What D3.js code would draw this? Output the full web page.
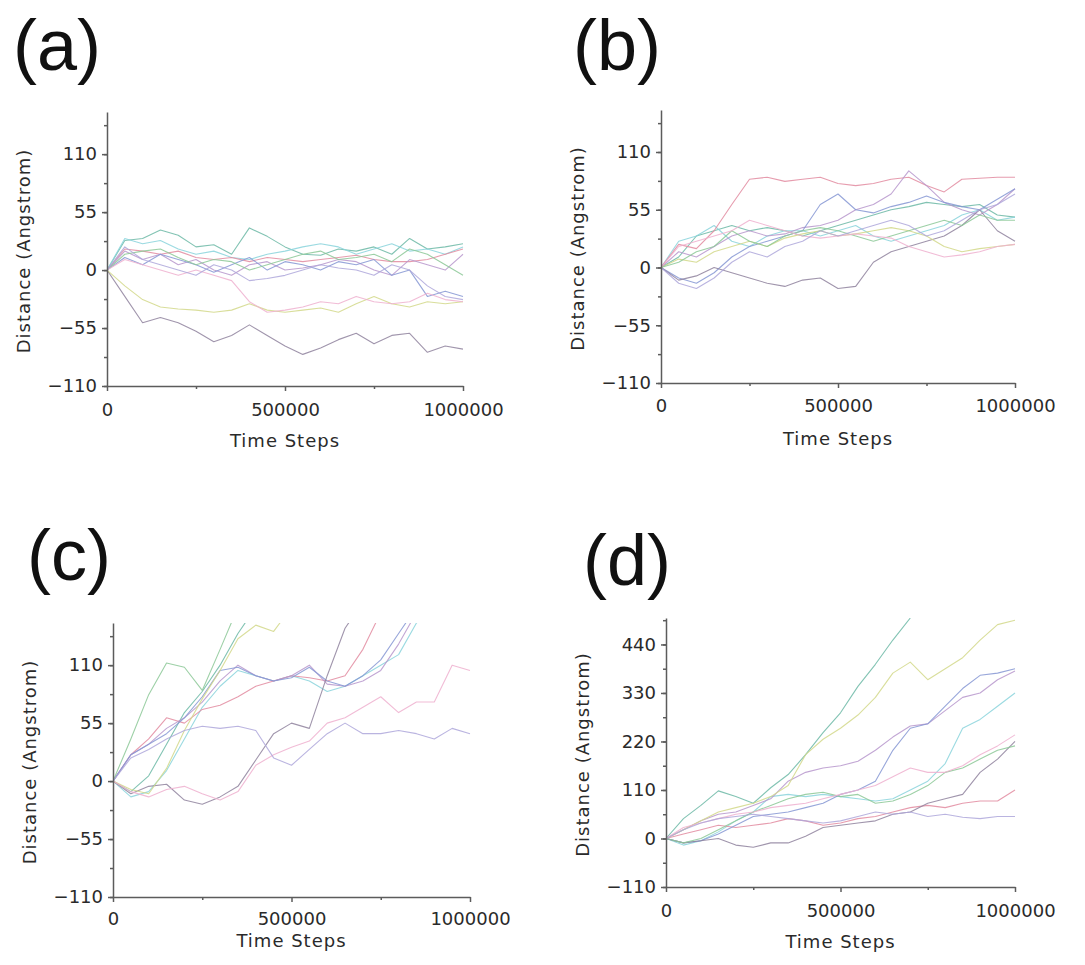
<!DOCTYPE html>
<html lang="en">
<head>
  <meta charset="UTF-8">
  <title>Distance vs Time Steps</title>
  <script src="https://d3js.org/d3.v7.min.js"></script>
  <style>
    body { margin: 0; background: #fff; }
    svg { display: block; }
    .tick text { font-family: "DejaVu Sans", sans-serif; font-size: 18px; fill: #2a2a2a; }
    .axis path, .axis line { stroke: #5c5c5c; stroke-width: 1.5; }
    .axis-title { font-family: "DejaVu Sans", sans-serif; font-size: 18px; fill: #2a2a2a; letter-spacing: 1px; }
    .panel-label { font-family: "Liberation Sans", Arial, sans-serif; font-size: 72px; fill: #111; }
    .walk { fill: none; stroke-width: 1.1; stroke-linejoin: round; opacity: 0.85; }
  </style>
</head>
<body>
  <script>
    // time step between two read points
    const stepSize = 50000;
    const xTicks = [0, 500000, 1000000];
    const xMinorTicks = [250000, 750000];
    const yTicksSmall = [-110, -55, 0, 55, 110];
    const yTicksLarge = [-110, 0, 110, 220, 330, 440];

    const walkColors = ["#6cb8a6", "#8ad3dc", "#e28ba0", "#b797cc", "#8697d4",
                        "#8f839d", "#d2d88a", "#8cc896", "#eeb0cf", "#aea7db"];

    // (a)
    const walksA = [
      [0, 28, 30, 38, 33, 22, 24, 15, 40, 32, 22, 15, 14, 20, 18, 22, 15, 30, 20, 22, 25],
      [0, 30, 25, 28, 20, 15, 18, 12, 10, 15, 18, 22, 25, 22, 15, 20, 25, 18, 20, 15, 22],
      [0, 20, 18, 15, 18, 12, 10, 12, 8, 12, 10, 8, 10, 12, 14, 10, 8, 8, 10, 15, 20],
      [0, 18, 10, 15, 5, 10, 0, -5, 5, 8, 0, 2, 5, 10, 8, 0, -5, 10, 5, 0, 15],
      [0, 12, 5, 15, 10, 5, -2, 5, 12, 0, 8, 5, 0, 8, 5, 10, -5, 0, -25, -20, -25],
      [0, -25, -50, -45, -50, -58, -68, -62, -52, -62, -72, -80, -74, -66, -60, -70, -62, -60, -78, -72, -75],
      [0, -15, -28, -35, -37, -38, -40, -38, -32, -38, -40, -38, -36, -40, -32, -25, -32, -35, -30, -32, -30],
      [0, 15, 18, 20, 12, 5, 10, 8, 0, 5, 10, 15, 18, 10, 12, 15, 8, 20, 15, 5, -5],
      [0, 10, 5, 0, -5, 0, -5, -10, -30, -40, -38, -35, -30, -32, -25, -30, -32, -30, -22, -28, -30],
      [0, 22, 10, 5, 0, -5, 5, 0, -10, -8, -5, 0, 5, 2, 0, -5, 5, 0, -15, -25, -28]
    ];

    // (b)
    const walksB = [
      [0, 10, 30, 35, 40, 35, 38, 35, 30, 35, 40, 45, 50, 55, 58, 62, 60, 58, 60, 50, 48],
      [0, 25, 30, 40, 25, 20, 30, 35, 35, 30, 35, 40, 30, 25, 30, 35, 40, 50, 55, 45, 48],
      [0, 22, 18, 35, 60, 84, 86, 82, 84, 86, 80, 78, 80, 84, 86, 78, 72, 84, 85, 86, 86],
      [0, 15, 10, 20, 30, 35, 30, 32, 38, 40, 45, 55, 60, 70, 92, 78, 62, 55, 50, 60, 75],
      [0, -10, -15, -5, 10, 20, 25, 30, 35, 60, 70, 55, 52, 58, 62, 68, 62, 58, 55, 65, 75],
      [0, -12, -8, 0, -5, -10, -15, -18, -12, -10, -20, -18, 5, 15, 20, 25, 30, 40, 55, 35, 25],
      [0, 8, 5, 15, 20, 25, 20, 28, 32, 35, 30, 32, 35, 38, 35, 30, 20, 15, 18, 20, 22],
      [0, 5, 15, 20, 35, 25, 20, 30, 35, 38, 35, 30, 25, 30, 35, 40, 45, 40, 50, 45, 45],
      [0, 20, 25, 30, 35, 45, 40, 35, 30, 28, 30, 32, 30, 28, 20, 15, 10, 12, 15, 20, 22],
      [0, -15, -20, -10, 5, 15, 10, 20, 25, 35, 30, 35, 40, 45, 40, 30, 35, 45, 55, 60, 70]
    ];

    // (c) - several walks leave the plot at the top
    const walksC = [
      [0, -10, 5, 35, 65, 85, 110, 140, 165],
      [0, -15, -10, 10, 40, 70, 90, 105, 100, 95, 100, 95, 85, 90, 100, 110, 120, 150, 165],
      [0, 25, 40, 60, 55, 68, 72, 80, 90, 95, 100, 98, 95, 100, 125, 160],
      [0, 25, 35, 50, 60, 75, 95, 110, 100, 95, 100, 110, 92, 90, 95, 105, 130, 160],
      [0, 25, 35, 45, 60, 80, 105, 108, 100, 95, 98, 108, 95, 90, 100, 115, 140, 165],
      [0, -12, -5, -3, -18, -22, -15, -5, 20, 45, 55, 50, 100, 145, 170],
      [0, -8, -12, 12, 48, 78, 105, 135, 148, 142, 165],
      [0, 40, 82, 112, 108, 86, 125, 165],
      [0, -10, -15, -8, -5, -12, -18, -10, 15, 25, 32, 38, 55, 60, 70, 80, 65, 75, 75, 110, 105],
      [0, 22, 30, 40, 48, 52, 50, 52, 48, 22, 15, 30, 45, 55, 45, 45, 48, 45, 40, 50, 45]
    ];

    // (d)
    const walksD = [
      [0, 45, 75, 108, 95, 80, 115, 145, 190, 240, 285, 345, 395, 450, 500],
      [0, -15, -5, 15, 40, 60, 95, 100, 95, 100, 95, 90, 85, 90, 110, 130, 170, 250, 270, 300, 330],
      [0, 10, 20, 30, 25, 30, 35, 45, 40, 30, 35, 45, 50, 60, 70, 75, 70, 80, 85, 85, 110],
      [0, 20, 40, 55, 60, 75, 90, 130, 150, 160, 165, 175, 200, 230, 255, 260, 290, 320, 330, 360, 380],
      [0, -10, -5, 10, 30, 50, 55, 60, 70, 80, 100, 110, 130, 200, 250, 260, 300, 340, 370, 375, 385],
      [0, -10, -5, 0, -15, -20, -10, -10, 5, 25, 30, 35, 40, 55, 60, 80, 90, 100, 150, 180, 220],
      [0, 20, 40, 60, 70, 80, 95, 120, 190, 225, 250, 280, 320, 375, 400, 360, 385, 410, 450, 485, 495],
      [0, -10, 0, 20, 40, 60, 75, 90, 100, 105, 95, 100, 80, 85, 100, 120, 150, 160, 180, 200, 210],
      [0, 25, 35, 45, 55, 60, 70, 75, 80, 90, 100, 110, 120, 140, 160, 150, 150, 165, 190, 210, 235],
      [0, 20, 35, 45, 50, 55, 50, 45, 40, 35, 40, 50, 60, 55, 60, 50, 55, 48, 45, 50, 50]
    ];

    const panels = [
      { label: "(a)", walks: walksA, yMax: 150, yTicks: yTicksSmall, yMinorStep: 27.5,
        left: 107, right: 463, top: 112, bottom: 386, labelX: 13, labelY: 70, tickPad: 12, titleGap: 61 },
      { label: "(b)", walks: walksB, yMax: 150, yTicks: yTicksSmall, yMinorStep: 27.5,
        left: 661, right: 1015, top: 110, bottom: 383, labelX: 573, labelY: 70, tickPad: 11, titleGap: 62 },
      { label: "(c)", walks: walksC, yMax: 150, yTicks: yTicksSmall, yMinorStep: 27.5,
        left: 113, right: 470, top: 623, bottom: 897, labelX: 27, labelY: 580, tickPad: 10, titleGap: 50 },
      { label: "(d)", walks: walksD, yMax: 500, yTicks: yTicksLarge, yMinorStep: 55,
        left: 666, right: 1015, top: 618, bottom: 887, labelX: 583, labelY: 585, tickPad: 12, titleGap: 61 }
    ];

    const svg = d3.select("body").append("svg")
      .attr("width", 1085)
      .attr("height", 965);

    panels.forEach((p, pi) => {
      const x = d3.scaleLinear().domain([0, 1000000]).range([p.left, p.right]);
      const y = d3.scaleLinear().domain([-110, p.yMax]).range([p.bottom, p.top]);

      const g = svg.append("g");

      g.append("defs").append("clipPath")
        .attr("id", "clip-" + pi)
        .append("rect")
        .attr("x", p.left).attr("y", p.top)
        .attr("width", p.right - p.left + 2)
        .attr("height", p.bottom - p.top);

      const line = d3.line()
        .x((d, i) => x(i * stepSize))
        .y(d => y(d));

      g.append("g")
        .attr("clip-path", `url(#clip-${pi})`)
        .selectAll("path")
        .data(p.walks)
        .join("path")
        .attr("class", "walk")
        .attr("stroke", (d, i) => walkColors[i % walkColors.length])
        .attr("d", line);

      // minor ticks
      const yMinor = d3.range(-110, p.yMax + 0.01, p.yMinorStep);
      g.append("g")
        .attr("class", "axis")
        .attr("transform", `translate(${p.left},0)`)
        .call(d3.axisLeft(y).tickValues(yMinor).tickSize(3).tickFormat(""))
        .call(s => s.select(".domain").remove());
      g.append("g")
        .attr("class", "axis")
        .attr("transform", `translate(0,${p.bottom})`)
        .call(d3.axisBottom(x).tickValues(xMinorTicks).tickSize(3).tickFormat(""))
        .call(s => s.select(".domain").remove());

      // main axes
      g.append("g")
        .attr("class", "axis")
        .attr("transform", `translate(${p.left},0)`)
        .call(d3.axisLeft(y).tickValues(p.yTicks).tickSize(5).tickSizeOuter(0).tickPadding(5));
      g.append("g")
        .attr("class", "axis")
        .attr("transform", `translate(0,${p.bottom})`)
        .call(d3.axisBottom(x).tickValues(xTicks).tickSize(5).tickSizeOuter(0)
          .tickPadding(p.tickPad).tickFormat(d3.format("d")));

      g.append("text")
        .attr("class", "axis-title")
        .attr("x", (p.left + p.right) / 2)
        .attr("y", p.bottom + p.titleGap)
        .attr("text-anchor", "middle")
        .text("Time Steps");

      g.append("text")
        .attr("class", "axis-title")
        .attr("transform", `translate(${p.left - 77},${(p.top + p.bottom) / 2 + 2}) rotate(-90)`)
        .attr("text-anchor", "middle")
        .text("Distance (Angstrom)");

      g.append("text")
        .attr("class", "panel-label")
        .attr("x", p.labelX)
        .attr("y", p.labelY)
        .text(p.label);
    });
  </script>
</body>
</html>
